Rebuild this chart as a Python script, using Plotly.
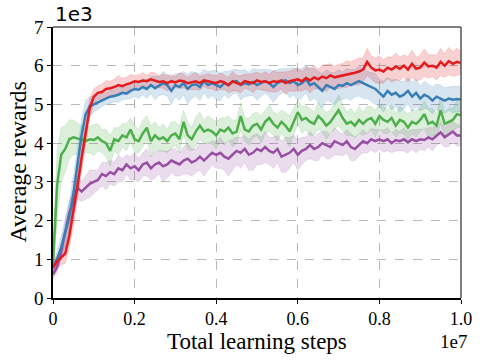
import plotly.graph_objects as go

steps = [i / 100 for i in range(101)]  # in units of 1e7

red_mean = [0.78, 0.95, 1.05, 1.15, 1.6, 2.2, 2.9, 3.6, 4.3, 4.9,
            5.2, 5.3, 5.32, 5.4, 5.42, 5.45, 5.5, 5.47, 5.52, 5.55,
            5.6, 5.58, 5.62, 5.6, 5.65, 5.62, 5.58, 5.6, 5.55, 5.6,
            5.57, 5.62, 5.6, 5.55, 5.58, 5.6, 5.55, 5.62, 5.6, 5.58,
            5.55, 5.6, 5.57, 5.5, 5.6, 5.55, 5.52, 5.6, 5.58, 5.55,
            5.62, 5.58, 5.6, 5.55, 5.6, 5.58, 5.62, 5.55, 5.6, 5.62,
            5.65, 5.6, 5.68, 5.62, 5.7, 5.65, 5.72, 5.68, 5.75, 5.7,
            5.72, 5.75, 5.78, 5.8, 5.82, 5.85, 5.9, 6.1, 5.95, 5.88,
            5.9, 5.85, 5.95, 5.9, 5.98, 5.92, 6.0, 5.9, 6.05, 5.92,
            5.95, 6.08, 5.98, 6.0, 5.95, 6.1, 6.0, 6.12, 6.05, 6.1, 6.07]
red_spread = [0.1, 0.15, 0.2, 0.25, 0.3, 0.35, 0.35, 0.35, 0.3, 0.25,
              0.2, 0.18, 0.2, 0.22, 0.18, 0.2, 0.25, 0.2, 0.18, 0.22,
              0.15, 0.18, 0.2, 0.15, 0.18, 0.2, 0.15, 0.18, 0.2, 0.17,
              0.15, 0.2, 0.18, 0.15, 0.2, 0.22, 0.18, 0.15, 0.2, 0.18,
              0.2, 0.22, 0.18, 0.2, 0.25, 0.2, 0.22, 0.18, 0.2, 0.25,
              0.22, 0.2, 0.25, 0.22, 0.28, 0.25, 0.22, 0.3, 0.25, 0.28,
              0.3, 0.25, 0.28, 0.32, 0.3, 0.25, 0.3, 0.35, 0.3, 0.28,
              0.32, 0.3, 0.35, 0.3, 0.32, 0.35, 0.3, 0.35, 0.3, 0.32,
              0.35, 0.3, 0.28, 0.32, 0.35, 0.3, 0.28, 0.33, 0.35, 0.3,
              0.32, 0.35, 0.3, 0.28, 0.32, 0.35, 0.3, 0.35, 0.32, 0.35, 0.3]

blue_mean = [0.8, 1.0, 1.3, 1.7, 2.1, 2.7, 3.4, 4.2, 4.75, 4.95,
             5.0, 5.05, 5.1, 5.15, 5.2, 5.22, 5.25, 5.3, 5.28, 5.35,
             5.4, 5.38, 5.45, 5.4, 5.5, 5.42, 5.48, 5.55, 5.5, 5.35,
             5.5, 5.45, 5.55, 5.4, 5.5, 5.52, 5.45, 5.6, 5.5, 5.55,
             5.5, 5.45, 5.55, 5.5, 5.58, 5.6, 5.5, 5.55, 5.52, 5.58,
             5.5, 5.55, 5.6, 5.55, 5.45, 5.55, 5.6, 5.62, 5.55, 5.6,
             5.5, 5.55, 5.65, 5.5, 5.55, 5.45, 5.35, 5.5, 5.45, 5.4,
             5.5, 5.48, 5.55, 5.5, 5.55, 5.6, 5.55, 5.5, 5.45, 5.4,
             5.3, 5.2, 5.35, 5.25, 5.3, 5.2, 5.25, 5.35, 5.2, 5.3,
             5.15, 5.25, 5.2, 5.1, 5.2, 5.15, 5.1, 5.15, 5.12, 5.14, 5.13]
blue_spread = [0.1, 0.2, 0.3, 0.35, 0.4, 0.45, 0.45, 0.4, 0.35, 0.25,
               0.2, 0.18, 0.15, 0.15, 0.18, 0.15, 0.2, 0.18, 0.15, 0.2,
               0.2, 0.22, 0.2, 0.25, 0.22, 0.3, 0.25, 0.3, 0.28, 0.35,
               0.3, 0.35, 0.3, 0.38, 0.35, 0.3, 0.35, 0.3, 0.35, 0.32,
               0.38, 0.35, 0.3, 0.35, 0.32, 0.3, 0.38, 0.35, 0.3, 0.35,
               0.4, 0.35, 0.3, 0.35, 0.4, 0.35, 0.32, 0.3, 0.38, 0.35,
               0.4, 0.38, 0.35, 0.42, 0.38, 0.4, 0.45, 0.4, 0.38, 0.42,
               0.4, 0.35, 0.38, 0.4, 0.35, 0.38, 0.4, 0.35, 0.38, 0.4,
               0.35, 0.4, 0.35, 0.38, 0.35, 0.4, 0.35, 0.33, 0.38, 0.35,
               0.32, 0.35, 0.33, 0.35, 0.32, 0.35, 0.33, 0.3, 0.35, 0.32, 0.33]

green_mean = [0.9, 2.9, 3.7, 3.85, 4.1, 4.15, 4.12, 4.1, 4.05, 4.1,
              4.08, 4.15, 4.05, 4.0, 3.8, 4.1, 4.05, 4.2, 4.15, 4.35,
              4.1, 4.05, 4.25, 4.4, 4.05, 4.2, 4.1, 4.15, 4.05, 4.2,
              4.25, 4.1, 4.55, 4.2, 4.1, 4.3, 4.45, 4.3, 4.35, 4.3,
              4.2, 4.35, 4.3, 4.4, 4.25, 4.3, 4.7, 4.35, 4.3, 4.45,
              4.5, 4.35, 4.55, 4.65, 4.5, 4.4, 4.55, 4.45, 4.3, 4.55,
              4.8, 4.6, 4.65, 4.55, 4.5, 4.7, 4.6, 4.45, 4.55, 4.7,
              4.85, 4.65, 4.5, 4.55, 4.45, 4.6, 4.5, 4.6, 4.65, 4.5,
              4.7, 4.6, 4.55, 4.65, 4.45, 4.6, 4.55, 4.4, 4.55, 4.5,
              4.6, 4.75, 4.5, 4.55, 4.45, 4.85, 4.5, 4.55, 4.6, 4.75, 4.72]
green_spread = [0.3, 0.9, 0.7, 0.6, 0.5, 0.45, 0.4, 0.35, 0.3, 0.35,
                0.4, 0.35, 0.3, 0.35, 0.4, 0.3, 0.35, 0.3, 0.35, 0.3,
                0.35, 0.3, 0.35, 0.3, 0.4, 0.35, 0.3, 0.35, 0.3, 0.35,
                0.3, 0.35, 0.3, 0.35, 0.3, 0.38, 0.35, 0.3, 0.35, 0.32,
                0.35, 0.3, 0.35, 0.3, 0.35, 0.3, 0.35, 0.3, 0.35, 0.32,
                0.3, 0.35, 0.3, 0.35, 0.3, 0.35, 0.3, 0.35, 0.4, 0.35,
                0.3, 0.35, 0.3, 0.35, 0.3, 0.35, 0.3, 0.35, 0.3, 0.35,
                0.4, 0.35, 0.3, 0.35, 0.3, 0.35, 0.3, 0.35, 0.3, 0.35,
                0.3, 0.35, 0.3, 0.35, 0.3, 0.35, 0.3, 0.35, 0.3, 0.35,
                0.3, 0.35, 0.4, 0.35, 0.3, 0.35, 0.3, 0.35, 0.3, 0.35, 0.3]

purple_mean = [0.6, 0.8, 1.2, 1.7, 2.2, 2.5, 2.85, 2.75, 2.85, 2.95,
               3.0, 3.05, 3.2, 3.15, 3.25, 3.2, 3.35, 3.3, 3.45, 3.35,
               3.4, 3.3, 3.45, 3.5, 3.35, 3.45, 3.5, 3.4, 3.45, 3.55,
               3.5, 3.45, 3.55, 3.6, 3.5, 3.55, 3.65, 3.55, 3.65, 3.75,
               3.7, 3.75, 3.65, 3.6, 3.7, 3.8, 3.75, 3.85, 3.7, 3.75,
               3.85, 3.8, 3.9, 3.8, 3.75, 3.85, 3.65, 3.7, 3.75, 3.85,
               3.7, 3.8, 3.85, 3.95, 3.85, 3.9, 4.0, 3.95, 3.9, 4.05,
               4.0, 3.95, 4.05, 3.9, 3.85, 3.95, 4.05, 4.0, 4.1, 4.05,
               4.1, 4.05, 4.1, 4.0, 4.08, 4.05, 4.1, 4.02, 4.1, 4.05,
               4.1, 4.08, 4.15, 4.1, 4.2, 4.28, 4.15, 4.22, 4.3, 4.2, 4.2]
purple_spread = [0.1, 0.15, 0.2, 0.25, 0.3, 0.3, 0.3, 0.25, 0.3, 0.35,
                 0.3, 0.25, 0.3, 0.35, 0.3, 0.3, 0.35, 0.3, 0.25, 0.3,
                 0.35, 0.3, 0.3, 0.35, 0.3, 0.35, 0.3, 0.4, 0.35, 0.3,
                 0.35, 0.3, 0.35, 0.4, 0.35, 0.3, 0.35, 0.4, 0.35, 0.3,
                 0.35, 0.4, 0.35, 0.45, 0.4, 0.35, 0.4, 0.35, 0.4, 0.45,
                 0.4, 0.35, 0.4, 0.35, 0.4, 0.35, 0.4, 0.45, 0.4, 0.35,
                 0.4, 0.35, 0.3, 0.35, 0.3, 0.35, 0.3, 0.35, 0.3, 0.35,
                 0.3, 0.28, 0.3, 0.35, 0.3, 0.28, 0.3, 0.25, 0.28, 0.3,
                 0.25, 0.28, 0.3, 0.25, 0.28, 0.25, 0.3, 0.28, 0.25, 0.3,
                 0.25, 0.28, 0.25, 0.3, 0.25, 0.28, 0.25, 0.3, 0.25, 0.28, 0.25]

series = [
    (purple_mean, purple_spread, "#984ea3", "rgba(152,78,163,0.2)"),
    (green_mean, green_spread, "#4daf4a", "rgba(77,175,74,0.2)"),
    (blue_mean, blue_spread, "#377eb8", "rgba(55,126,184,0.2)"),
    (red_mean, red_spread, "#e41a1c", "rgba(228,26,28,0.2)"),
]

fig = go.Figure()
for mean, spread, col, fill in series:
    upper = [m + s for m, s in zip(mean, spread)]
    lower = [m - s for m, s in zip(mean, spread)]
    fig.add_trace(go.Scatter(x=steps, y=upper, mode="lines", line=dict(width=0.8, color=fill),
                             showlegend=False, hoverinfo="skip"))
    fig.add_trace(go.Scatter(x=steps, y=lower, mode="lines", line=dict(width=0.8, color=fill),
                             fill="tonexty", fillcolor=fill, showlegend=False, hoverinfo="skip"))
for mean, spread, col, fill in series:
    fig.add_trace(go.Scatter(x=steps, y=mean, mode="lines", line=dict(width=2.5, color=col),
                             showlegend=False))

serif = "Liberation Serif"
fig.update_layout(
    width=483, height=361,
    margin=dict(l=53, r=22, t=27, b=63, autoexpand=False),
    plot_bgcolor="white", paper_bgcolor="white",
    font=dict(family=serif, color="black", size=18),
    xaxis=dict(range=[0, 1.0], tickvals=[0, 0.2, 0.4, 0.6, 0.8, 1.0],
               ticktext=["0", "0.2", "0.4", "0.6", "0.8", "1.0"],
               tickfont=dict(family=serif, size=18),
               showgrid=True, gridcolor="#b8b8b8", griddash="dash", gridwidth=1,
               showline=True, linecolor="black", linewidth=1.5, automargin=False,
               ticks="outside", ticklen=4, tickcolor="black", zeroline=False),
    yaxis=dict(range=[0, 7], tickvals=[0, 1, 2, 3, 4, 5, 6, 7],
               tickfont=dict(family=serif, size=19),
               showgrid=True, gridcolor="#b8b8b8", griddash="dash", gridwidth=1,
               showline=True, linecolor="black", linewidth=1.5, automargin=False,
               ticks="outside", ticklen=4, tickcolor="black", zeroline=False),
    shapes=[
        dict(type="line", xref="paper", yref="paper", x0=0, x1=1, y0=1, y1=1,
             line=dict(color="#555", width=1.5)),
        dict(type="line", xref="paper", yref="paper", x0=1, x1=1, y0=0, y1=1,
             line=dict(color="#555", width=1.5)),
    ],
    annotations=[
        dict(text="Total learning steps", xref="paper", yref="paper", x=0.5, y=0,
             xanchor="center", yanchor="middle", yshift=-43, showarrow=False,
             font=dict(family=serif, size=23)),
        dict(text="Average rewards", xref="paper", yref="paper", x=0, y=0.5,
             xanchor="center", yanchor="middle", xshift=-36, textangle=-90, showarrow=False,
             font=dict(family=serif, size=24)),
        dict(text="1e3", xref="paper", yref="paper", x=0, y=1, xanchor="left", yanchor="bottom",
             showarrow=False, yshift=-1, font=dict(family="DejaVu Sans", size=20)),
        dict(text="1e7", xref="paper", yref="paper", x=1, y=0, xanchor="right", yanchor="top",
             showarrow=False, xshift=8, yshift=-31, font=dict(family=serif, size=19)),
    ],
)

fig.write_html("out.html", config={"displayModeBar": False},
               post_script="document.body.style.margin='0';")
